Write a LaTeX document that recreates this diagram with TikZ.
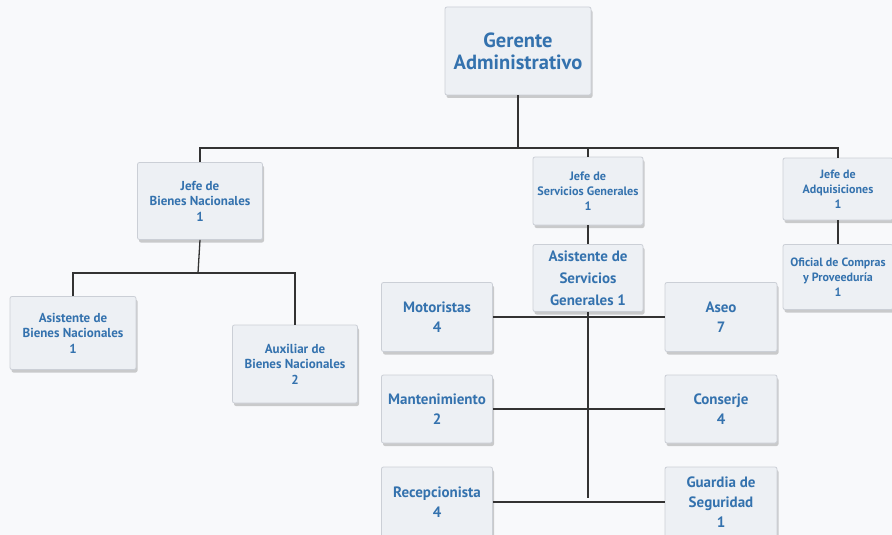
\documentclass[tikz,border=0pt]{standalone}
\usepackage{fontspec}
\setmainfont{PT Sans}[BoldFont={PT Sans Bold}]
\usetikzlibrary{shadows}
\definecolor{txtblue}{HTML}{3472AE}
\definecolor{boxfill}{HTML}{EDF0F4}
\definecolor{boxline}{HTML}{CBCFD6}
\definecolor{conn}{HTML}{333333}
\definecolor{bg}{HTML}{F8F9FB}
\tikzset{
  x=1pt, y=-1pt,
  box/.style={draw=boxline, line width=0.8pt, fill=boxfill, rounded corners=2pt,
    align=center, font=\bfseries, text=txtblue, inner sep=1pt,
    drop shadow={opacity=0.35, shadow xshift=1.5pt, shadow yshift=-3pt, fill=black!55}},
  small/.style={font=\bfseries\fontsize{13}{15.5}\selectfont},
  tiny/.style={font=\bfseries\fontsize{12}{15}\selectfont},
  big/.style={font=\bfseries\fontsize{15}{20}\selectfont},
  link/.style={draw=conn, line width=1.3pt},
  thick link/.style={draw=conn, line width=2pt}
}
\begin{document}
\begin{tikzpicture}
\fill[bg] (0,0) rectangle (892,535);
\useasboundingbox (0,0) rectangle (892,535);
\clip (0,0) rectangle (892,535);
% nodes
\node[box, minimum width=146pt, minimum height=88pt, font=\bfseries\fontsize{20.5}{22}\selectfont] (ger) at (518,51) {Gerente\\Administrativo};
\node[box, small, minimum width=125pt, minimum height=77pt] (jbn) at (200,201) {Jefe de\\Bienes Nacionales\\1};
\node[box, small, minimum width=126pt, minimum height=73pt] (abn) at (73,333) {Asistente de\\Bienes Nacionales\\1};
\node[box, small, minimum width=125pt, minimum height=78pt] (xbn) at (295,364) {Auxiliar de\\Bienes Nacionales\\2};
\node[box, font=\bfseries\fontsize{12.2}{15}\selectfont, minimum width=110pt, minimum height=68pt] (jsg) at (588,191) {Jefe de\\Servicios Generales\\1};
\node[box, font=\bfseries\fontsize{15}{22}\selectfont, minimum width=110pt, minimum height=67pt] (asg) at (588,278) {Asistente de\\Servicios\\Generales 1};
\node[box, tiny, minimum width=110pt, minimum height=62pt] (jad) at (838,189) {Jefe de\\Adquisiciones\\1};
\node[box, tiny, minimum width=110pt, minimum height=65pt] (ofc) at (838,277) {Oficial de Compras\\y Proveeduría\\1};
\node[box, big, minimum width=111pt, minimum height=69pt] (mot) at (437,317) {Motoristas\\4};
\node[box, big, minimum width=112pt, minimum height=69pt] (ase) at (721,317) {Aseo\\7};
\node[box, big, minimum width=111pt, minimum height=68pt] (man) at (437,409) {Mantenimiento\\2};
\node[box, big, minimum width=112pt, minimum height=68pt] (con) at (721,409) {Conserje\\4};
\node[box, big, minimum width=111pt, minimum height=70pt] (rec) at (437,502) {Recepcionista\\4};
\node[box, big, minimum width=112pt, minimum height=70pt] (gua) at (721,502) {Guardia de\\Seguridad\\1};
% connectors
\coordinate (b1) at (518,148);
\coordinate (b2) at (198,273);
\coordinate (b3) at (588,498);
\draw[link] (ger.south) -- (b1);
\draw[link] (jbn.north) |- (b1) -| (jad.north);
\draw[link] (b1) -| (jsg.north);
\draw[thick link] (jsg.south) -- (asg.north);
\draw[link] (jad.south) -- (ofc.north);
\draw[link] (jbn.south) -- (b2);
\draw[link] (abn.north) |- (b2) -| (xbn.north);
\draw[thick link] (asg.south) -- (b3);
\draw[link] (mot.east) -- (ase.west);
\draw[link] (man.east) -- (con.west);
\draw[link] (rec.east) -- (gua.west);
\end{tikzpicture}
\end{document}
